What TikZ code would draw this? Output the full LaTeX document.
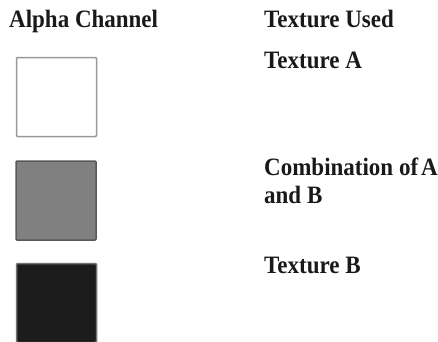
\documentclass[tikz,border=0pt]{standalone}
\usepackage{fontspec}
\setmainfont{Liberation Serif}
\newfontfamily\lblfont[FakeStretch=0.92]{Liberation Serif Bold}
\begin{document}
\begin{tikzpicture}[x=1pt,y=-1pt,
  lbl/.style={anchor=base west,inner sep=0pt,font=\lblfont\fontsize{25}{28}\selectfont,text=black!90},
  swatch/.style={minimum width=80pt,minimum height=79pt,inner sep=0pt,line width=1.5pt,rounded corners=1pt}]
\useasboundingbox (0,0) rectangle (438,341);
\node[lbl] (h1) at (9,27) {Alpha Channel};
\node[lbl] (h2) at (264,27) {Texture Used};
\node[swatch,draw=black!40,fill=white] (s1) at (56.5,97) {};
\node[lbl] (t1) at (264,68) {Texture A};
\node[swatch,draw=black!65,fill=black!50] (s2) at (56,200.5) {};
\node[lbl] (t2a) at (264,175) {Combination of\hspace{0.12em}A};
\node[lbl] (t2b) at (264,203) {and B};
\node[swatch,draw=black!55,fill=black!89] (s3) at (56.5,303) {};
\node[lbl] (t3) at (264,273) {Texture B};
\end{tikzpicture}
\end{document}
